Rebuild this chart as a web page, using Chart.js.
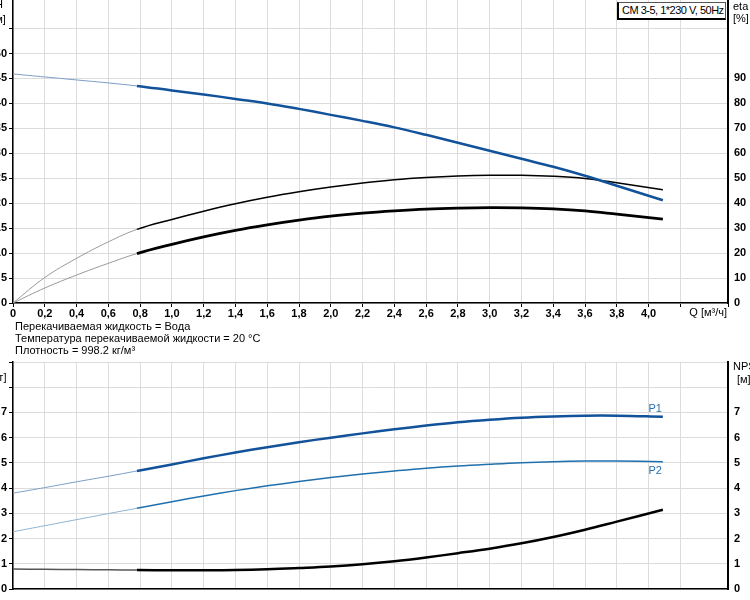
<!DOCTYPE html>
<html>
<head>
<meta charset="utf-8">
<script src="https://cdn.jsdelivr.net/npm/chart.js@4"></script>
<style>
  html, body { margin: 0; padding: 0; background: #fff; }
  #page { position: relative; width: 750px; height: 600px; overflow: hidden; font-family: "Liberation Sans", Arial, sans-serif; }
  .cv { position: absolute; left: -30px; }
  #top { top: -10px; width: 810px; height: 345px; }
  #bottom { top: 350px; width: 810px; height: 260px; }
  .info { position: absolute; left: 15px; font-size: 11px; color: #000; line-height: 12px; }
  #model { position: absolute; left: 617px; top: 2px; padding: 1px 1px 1px 3px; font-size: 11px; letter-spacing: -0.5px;
           line-height: 13px; background: #fff;
           border: 1px solid #555; border-left: 2px solid #000; border-bottom: 2px solid #000; }
</style>
</head>
<body>
<div id="page">
  <canvas id="top" class="cv" width="810" height="345"></canvas>
  <canvas id="bottom" class="cv" width="810" height="260"></canvas>
  <div class="info" style="top:320px">Перекачиваемая жидкость = Вода</div>
  <div class="info" style="top:332px">Температура перекачиваемой жидкости = 20 °C</div>
  <div class="info" style="top:344px">Плотность = 998.2 кг/м³</div>
  <div id="model">CM 3-5, 1*230 V, 50Hz</div>
</div>
<script>
// flow rate Q [m3/h]
const flow = [0, 0.2, 0.4, 0.6, 0.78, 1.0, 1.2, 1.4, 1.6, 1.8, 2.0, 2.2, 2.4, 2.6, 2.8, 3.0, 3.2, 3.4, 3.6, 3.8, 4.09];
// head H [m]
const head = [45.9, 45.3, 44.7, 44.1, 43.5, 42.6, 41.8, 40.9, 40.0, 38.9, 37.7, 36.5, 35.2, 33.7, 32.1, 30.5, 28.9, 27.3, 25.5, 23.5, 20.6];
// efficiency [%]
const etaPump = [0, 10.2, 17.9, 24.5, 29.5, 33.5, 36.8, 39.8, 42.4, 44.6, 46.5, 48.1, 49.4, 50.3, 50.9, 51.2, 51.2, 50.8, 49.9, 48.2, 45.4];
const etaTotal = [0, 6.0, 11.2, 15.9, 19.8, 23.5, 26.5, 29.1, 31.3, 33.2, 34.8, 36.0, 36.9, 37.6, 38.0, 38.2, 38.1, 37.7, 36.9, 35.6, 33.6];
// power [kW]
const powerP1 = [3.80, 4.02, 4.25, 4.47, 4.68, 4.94, 5.18, 5.41, 5.62, 5.82, 6.00, 6.17, 6.33, 6.48, 6.61, 6.71, 6.79, 6.84, 6.87, 6.87, 6.83];
const powerP2 = [2.27, 2.51, 2.75, 2.99, 3.20, 3.46, 3.69, 3.90, 4.09, 4.26, 4.42, 4.56, 4.68, 4.79, 4.88, 4.95, 5.01, 5.05, 5.07, 5.07, 5.05];
// NPSH [m]
const npsh = [0.79, 0.78, 0.77, 0.76, 0.75, 0.74, 0.74, 0.75, 0.78, 0.83, 0.89, 0.98, 1.10, 1.25, 1.42, 1.60, 1.81, 2.06, 2.35, 2.67, 3.14];
// start of the recommended operating range
const rangeStart = 0.78;

Chart.defaults.font.family = '"Liberation Sans", Arial, sans-serif';
Chart.defaults.color = '#000';

const pts = arr => flow.map((q, i) => ({ x: q, y: arr[i] }));

// thin light line before the operating range, thick after it
const curve = (label, arr, axis, thin, thick) => ({
    label,
    data: pts(arr),
    yAxisID: axis,
    pointRadius: 0,
    tension: 0.4,
    borderColor: thick[0],
    borderWidth: thick[1],
    segment: {
        borderColor: c => c.p1.parsed.x <= rangeStart ? thin[0] : thick[0],
        borderWidth: c => c.p1.parsed.x <= rangeStart ? thin[1] : thick[1]
    }
});

const gridColor = '#dcdcdc';
const tickFont = { size: 11, weight: 'bold' };

const xScale = (showLabels, h) => ({
    type: 'linear', min: 0, max: 4.5,
    afterFit: s => { s.height = h; },
    grid: { color: gridColor, tickColor: '#000', tickLength: showLabels ? 4 : 0 },
    border: { color: '#000', width: 1.5 },
    ticks: {
        display: showLabels, stepSize: 0.2, autoSkip: false, maxRotation: 0, padding: 0, font: tickFont,
        callback: v => v > 4.05 ? '' : (v === 0 ? '0' : v.toFixed(1).replace('.', ','))
    }
});

const yScale = (pos, max, step, lastLabel, w, showGrid) => ({
    type: 'linear', position: pos, min: 0, max: max,
    afterFit: s => { s.width = w; },
    grid: { display: showGrid, color: gridColor, tickColor: '#000', tickLength: 4 },
    border: { color: '#000', width: pos === 'right' ? 2 : 1.5 },
    ticks: {
        stepSize: step, padding: 2, font: tickFont, autoSkip: false,
        callback: v => v > lastLabel ? '' : String(v)
    }
});

const textPlugin = (items) => ({
    id: 'texts',
    afterDraw(chart) {
        const ctx = chart.ctx;
        ctx.save();
        items(chart).forEach(t => {
            ctx.font = '11px "Liberation Sans", Arial, sans-serif';
            ctx.fillStyle = t.color || '#000';
            ctx.textAlign = t.align || 'left';
            ctx.textBaseline = 'middle';
            ctx.fillText(t.text, t.x, t.y);
        });
        ctx.restore();
    }
});

new Chart(document.getElementById('top'), {
    type: 'line',
    data: {
        datasets: [
            curve('H', head, 'yH', ['#7d9dc6', 1], ['#11529a', 2.5]),
            curve('eta', etaPump, 'yEta', ['#999', 1], ['#000', 1.5]),
            curve('eta total', etaTotal, 'yEta', ['#999', 1], ['#000', 2.8])
        ]
    },
    options: {
        responsive: false, animation: false,
        layout: { padding: { top: 7, left: 0, right: 0, bottom: 0 } },
        plugins: { legend: { display: false }, tooltip: { enabled: false } },
        scales: {
            x: xScale(true, 32),
            yH: yScale('left', 61, 5, 50, 43, true),
            yEta: yScale('right', 122, 10, 90, 52, false)
        }
    },
    plugins: [textPlugin(chart => {
        const a = chart.chartArea;
        return [
            { text: 'H', x: a.left - 14, y: 15, align: 'center' },
            { text: '[м]', x: a.left - 14, y: 30, align: 'center' },
            { text: 'eta', x: a.right + 5, y: 17 },
            { text: '[%]', x: a.right + 5, y: 29 },
            { text: 'Q [м³/ч]', x: a.right - 1, y: a.bottom + 10, align: 'right' }
        ];
    })]
});

new Chart(document.getElementById('bottom'), {
    type: 'line',
    data: {
        datasets: [
            curve('P1', powerP1, 'yP', ['#7d9dc6', 1], ['#11529a', 2.5]),
            curve('P2', powerP2, 'yP', ['#8fb3d3', 1], ['#2070ae', 1.5]),
            curve('NPSH', npsh, 'yN', ['#555', 1.5], ['#000', 2.5])
        ]
    },
    options: {
        responsive: false, animation: false,
        layout: { padding: { top: 12, left: 0, right: 0, bottom: 0 } },
        plugins: { legend: { display: false }, tooltip: { enabled: false } },
        scales: {
            x: xScale(false, 21),
            yP: yScale('left', 9, 1, 7, 43, true),
            yN: yScale('right', 9, 1, 7, 52, false)
        }
    },
    plugins: [textPlugin(chart => {
        const a = chart.chartArea;
        const xs = chart.scales.x, ys = chart.scales.yP;
        const qEnd = flow[flow.length - 1];
        return [
            { text: 'P', x: a.left - 18, y: 14, align: 'center' },
            { text: '[кВт]', x: a.left - 18, y: 28, align: 'center' },
            { text: 'NPSH', x: a.right + 5, y: 17 },
            { text: '[м]', x: a.right + 9, y: 30 },
            { text: 'P1', x: xs.getPixelForValue(qEnd) - 1, y: ys.getPixelForValue(powerP1[powerP1.length - 1]) - 8, align: 'right', color: '#2a6fae' },
            { text: 'P2', x: xs.getPixelForValue(qEnd) - 1, y: ys.getPixelForValue(powerP2[powerP2.length - 1]) + 9, align: 'right', color: '#2a6fae' }
        ];
    })]
});
</script>
</body>
</html>
